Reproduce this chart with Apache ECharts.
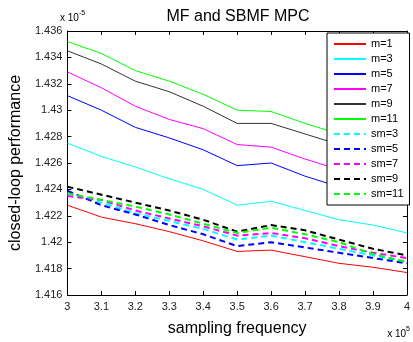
<!DOCTYPE html>
<html>
<head>
<meta charset="utf-8">
<script src="https://cdn.jsdelivr.net/npm/echarts@6/dist/echarts.min.js"></script>
<style>
html,body{margin:0;padding:0;background:#fff;}
#c{width:413px;height:342px;}
</style>
</head>
<body>
<div id="c"></div>
<script>
// sampling frequency (x 10^5)
var freq = [3.0, 3.1, 3.2, 3.3, 3.4, 3.5, 3.6, 3.7, 3.8, 3.9, 4.0];
// closed-loop performance (x 10^-5)
var m1  = [1.4228, 1.4219, 1.4214, 1.4208, 1.4201, 1.4193, 1.4194, 1.4189, 1.4184, 1.4181, 1.4177];
var m3  = [1.4275, 1.4265, 1.4257, 1.4248, 1.4240, 1.4228, 1.4231, 1.4224, 1.4217, 1.4213, 1.4207];
var m5  = [1.4311, 1.4300, 1.4287, 1.4279, 1.4270, 1.4258, 1.4260, 1.4250, 1.4242, 1.4236, 1.4229];
var m7  = [1.4329, 1.4317, 1.4303, 1.4293, 1.4286, 1.4274, 1.4272, 1.4263, 1.4255, 1.4249, 1.4243];
var m9  = [1.4345, 1.4335, 1.4322, 1.4314, 1.4303, 1.4290, 1.4290, 1.4282, 1.4274, 1.4266, 1.4259];
var m11 = [1.4352, 1.4343, 1.4330, 1.4322, 1.4312, 1.4300, 1.4299, 1.4290, 1.4282, 1.4275, 1.4268];
var sm3  = [1.4237, 1.4230, 1.4222, 1.4216, 1.4210, 1.4202, 1.4205, 1.4200, 1.4195, 1.4190, 1.4185];
var sm5  = [1.4239, 1.4228, 1.4221, 1.4213, 1.4206, 1.4197, 1.4200, 1.4196, 1.4192, 1.4188, 1.4184];
var sm7  = [1.4235, 1.4232, 1.4224, 1.4218, 1.4212, 1.4205, 1.4207, 1.4203, 1.4197, 1.4192, 1.4188];
var sm9  = [1.4242, 1.4236, 1.4230, 1.4224, 1.4217, 1.4208, 1.4213, 1.4209, 1.4202, 1.4195, 1.4190];
var sm11 = [1.4237, 1.4232, 1.4227, 1.4221, 1.4214, 1.4207, 1.4211, 1.4206, 1.4200, 1.4191, 1.4185];

var seriesDefs = [
  {name:'m=1',  data:m1,  color:'#ff0000', dashed:false},
  {name:'m=3',  data:m3,  color:'#00ffff', dashed:false},
  {name:'m=5',  data:m5,  color:'#0000ff', dashed:false},
  {name:'m=7',  data:m7,  color:'#ff00ff', dashed:false},
  {name:'m=9',  data:m9,  color:'#333333', dashed:false},
  {name:'m=11', data:m11, color:'#00ff00', dashed:false},
  {name:'sm=3', data:sm3, color:'#00ffff', dashed:true},
  {name:'sm=5', data:sm5, color:'#0000ff', dashed:true},
  {name:'sm=7', data:sm7, color:'#ff00ff', dashed:true},
  {name:'sm=9', data:sm9, color:'#000000', dashed:true},
  {name:'sm=11',data:sm11,color:'#00ff00', dashed:true}
];

var FONT = 'Liberation Sans, Arial, sans-serif';
var series = seriesDefs.map(function(s){
  return {
    name: s.name, type:'line', symbol:'none',
    xAxisIndex:0, yAxisIndex:0,
    data: freq.map(function(f,i){ return [f, s.data[i]]; }),
    lineStyle: {color:s.color, width: s.dashed ? 2 : 1, type: s.dashed ? [6,4] : 'solid'},
    itemStyle: {color:s.color},
    emphasis: {disabled:true},
    z: s.dashed ? 3 : 2
  };
});

var chart = echarts.init(document.getElementById('c'), null, {renderer:'canvas'});
var axisCommon = {
  axisLine:{show:true, lineStyle:{color:'#000', width:1}},
  axisTick:{show:true, inside:true, length:4, lineStyle:{color:'#000'}},
  splitLine:{show:false}
};
chart.setOption({
  animation:false,
  backgroundColor:'#fff',
  title:{text:'MF and SBMF MPC', left:233, top:4, textAlign:'center',
    textStyle:{fontFamily:FONT, fontSize:16, fontWeight:'normal', color:'#000'}},
  grid:{left:60, right:2, top:31, bottom:35, show:false},
  legend:{
    orient:'vertical', left:327, top:33, itemWidth:32, itemHeight:10, itemGap:3,
    padding:[5,6,5,6], backgroundColor:'#fff', borderColor:'#000', borderWidth:1,
    itemStyle:{opacity:0},
    textStyle:{fontFamily:FONT, fontSize:11, color:'#000', lineHeight:12},
    data: seriesDefs.map(function(s){ return s.name; })
  },
  xAxis:[
    Object.assign({type:'value', position:'bottom', min:3, max:4, interval:0.1,
      axisLabel:{fontFamily:FONT, fontSize:11, color:'#222', margin:6},
      name:'sampling frequency', nameLocation:'middle', nameGap:26,
      nameTextStyle:{fontFamily:FONT, fontSize:16, color:'#000'}}, axisCommon),
    Object.assign({type:'value', position:'top', min:3, max:4, interval:0.1,
      axisLabel:{show:false}}, axisCommon)
  ],
  yAxis:[
    Object.assign({type:'value', position:'left', min:1.416, max:1.436, interval:0.002,
      axisLabel:{fontFamily:FONT, fontSize:11, color:'#222', margin:5},
      name:'closed-loop performance', nameLocation:'middle', nameGap:41,
      nameTextStyle:{fontFamily:FONT, fontSize:16, color:'#000'}}, axisCommon),
    Object.assign({type:'value', position:'right', min:1.416, max:1.436, interval:0.002,
      axisLabel:{show:false}}, axisCommon)
  ],
  graphic:[
    {type:'text', left:60, top:10, style:{
      text:'{a|x 10}{b|-5}', rich:{
        a:{fontFamily:FONT, fontSize:10, color:'#222', verticalAlign:'bottom'},
        b:{fontFamily:FONT, fontSize:7, color:'#222', verticalAlign:'top', padding:[0,0,6,0]}
      }}},
    {type:'text', right:3, top:326, style:{
      text:'{a|x 10}{b|5}', rich:{
        a:{fontFamily:FONT, fontSize:10, color:'#222', verticalAlign:'bottom'},
        b:{fontFamily:FONT, fontSize:7, color:'#222', verticalAlign:'top', padding:[0,0,6,0]}
      }}}
  ],
  series: series
});
</script>
</body>
</html>
